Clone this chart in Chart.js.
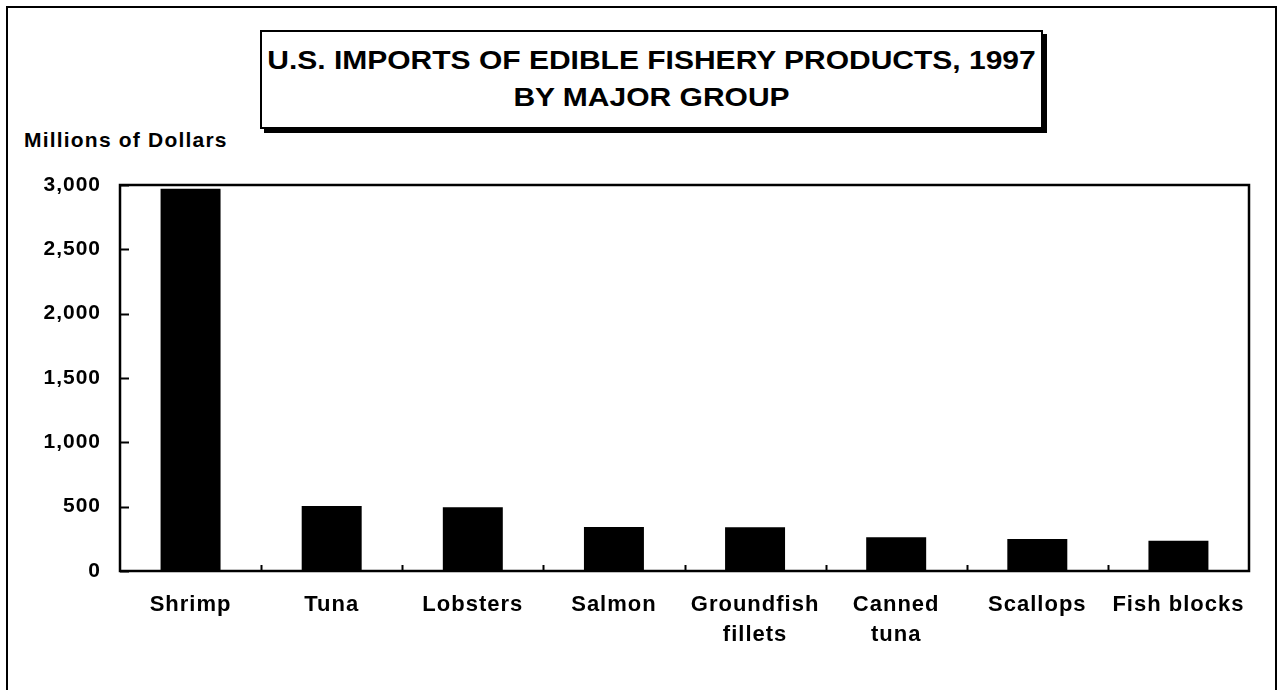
<!DOCTYPE html>
<html>
<head>
<meta charset="utf-8">
<script src="https://cdn.jsdelivr.net/npm/chart.js@4.4.1/dist/chart.umd.min.js"></script>
<style>
  html, body { margin: 0; padding: 0; background: #fff; }
  #wrap { position: relative; width: 1279px; height: 690px; overflow: hidden; }
  #frame { position: absolute; left: 6px; top: 6px; width: 1271px; height: 700px; border: 2px solid #000; box-sizing: border-box; }
  #titlebox { position: absolute; left: 260px; top: 30px; width: 783px; height: 99px; border: 2px solid #000; box-sizing: border-box;
    box-shadow: 4px 4px 0 #000; background: #fff; font-family: "Liberation Sans", Arial, sans-serif; font-weight: bold;
    font-size: 25px; text-align: center; line-height: 37px; padding-top: 10px; }
  #titlebox div { transform: scaleX(1.2); transform-origin: 50% 50%; white-space: nowrap; }
  #ylab { position: absolute; left: 24px; top: 128px; font-family: "Liberation Sans", Arial, sans-serif; font-weight: bold; font-size: 21px; letter-spacing: 1.2px; }
  canvas { position: absolute; left: 0; top: 0; }
</style>
</head>
<body>
<div id="wrap">
  <div id="frame"></div>
  <div id="titlebox"><div>U.S. IMPORTS OF EDIBLE FISHERY PRODUCTS, 1997</div><div>BY MAJOR GROUP</div></div>
  <div id="ylab">Millions of Dollars</div>
  <canvas id="c" width="1279" height="690"></canvas>
</div>
<script>
const categories = ["Shrimp", "Tuna", "Lobsters", "Salmon", ["Groundfish", "fillets"], ["Canned", "tuna"], "Scallops", "Fish blocks"];
const importValues = [2970, 505, 495, 342, 340, 262, 249, 236];
const yTicks = [0, 500, 1000, 1500, 2000, 2500, 3000];

const spacingPlugin = {
  id: 'spacingPlugin',
  beforeDraw(chart) { try { chart.ctx.letterSpacing = '1px'; } catch (e) {} }
};

const framePlugin = {
  id: 'framePlugin',
  afterDatasetsDraw(chart) {
    const ctx = chart.ctx, a = chart.chartArea;
    const y = chart.scales.y, x = chart.scales.x;
    ctx.save();
    ctx.strokeStyle = '#000';
    ctx.lineWidth = 2.5;
    ctx.strokeRect(a.left, a.top, a.right - a.left, a.bottom - a.top);
    ctx.lineWidth = 2;
    yTicks.forEach(v => {
      const py = Math.round(y.getPixelForValue(v)) + 0.5;
      ctx.beginPath(); ctx.moveTo(a.left, py); ctx.lineTo(a.left + 9, py); ctx.stroke();
    });
    for (let i = 1; i < categories.length; i++) {
      const px = Math.round((x.getPixelForValue(i - 1) + x.getPixelForValue(i)) / 2) + 0.5;
      ctx.beginPath(); ctx.moveTo(px, a.bottom); ctx.lineTo(px, a.bottom - 6); ctx.stroke();
    }
    ctx.restore();
  }
};

new Chart(document.getElementById('c'), {
  type: 'bar',
  data: {
    labels: categories,
    datasets: [{ data: importValues, backgroundColor: '#000', borderWidth: 0, categoryPercentage: 0.85, barPercentage: 0.5 }]
  },
  options: {
    responsive: false,
    animation: false,
    layout: { padding: { top: 185, right: 30, bottom: 19, left: 0 } },
    plugins: { legend: { display: false }, tooltip: { enabled: false }, title: { display: false } },
    scales: {
      y: {
        min: 0, max: 3000,
        afterFit(s) { s.width = 120; },
        afterBuildTicks(s) { s.ticks = yTicks.map(v => ({ value: v })); },
        border: { display: false },
        grid: { display: false, drawTicks: false },
        ticks: {
          color: '#000', padding: 19,
          font: { family: '"Liberation Sans", Arial, sans-serif', weight: 'bold', size: 21 },
          callback: v => v.toLocaleString('en-US')
        }
      },
      x: {
        afterFit(s) { s.height = 100; },
        border: { display: false },
        grid: { display: false, drawTicks: false },
        ticks: {
          color: '#000', padding: 19, maxRotation: 0, autoSkip: false,
          font: { family: '"Liberation Sans", Arial, sans-serif', weight: 'bold', size: 22, lineHeight: '30px' }
        }
      }
    }
  },
  plugins: [spacingPlugin, framePlugin]
});
</script>
</body>
</html>
